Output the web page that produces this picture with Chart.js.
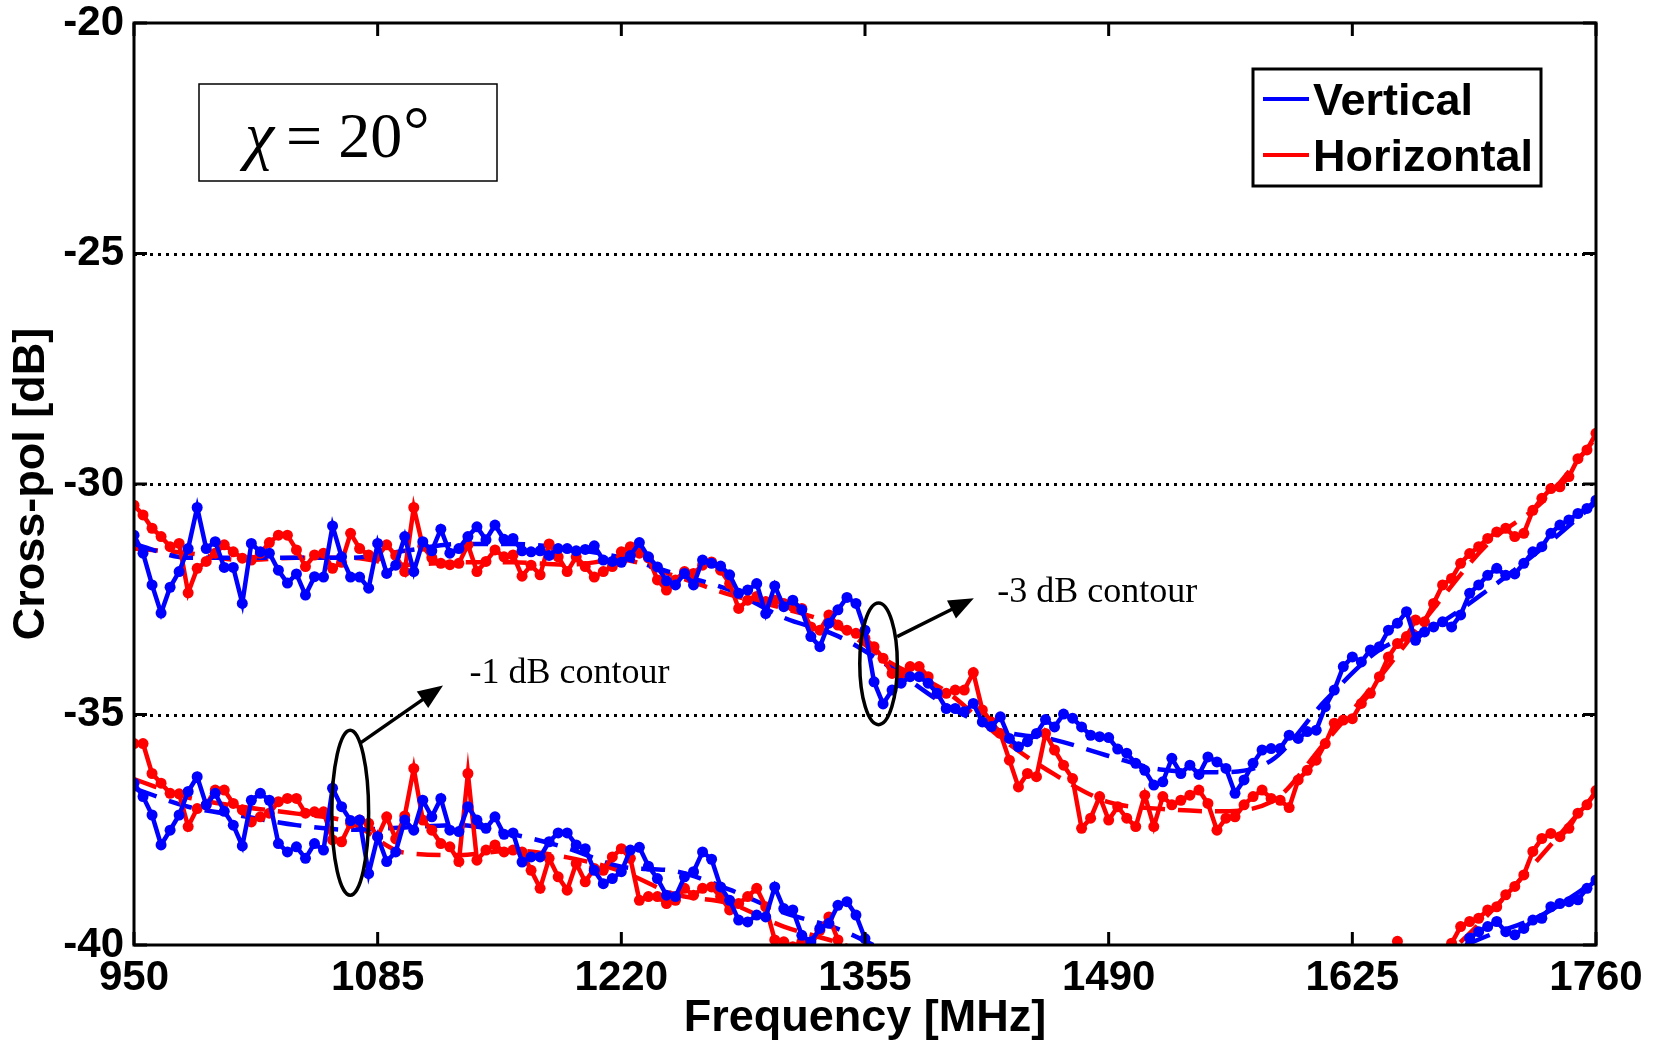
<!DOCTYPE html>
<html>
<head>
<meta charset="utf-8">
<title>Cross-pol vs frequency</title>
<script src="https://cdn.jsdelivr.net/npm/chart.js@4.4.1/dist/chart.umd.min.js"></script>
<style>
  html, body { margin: 0; padding: 0; background: #fff; }
</style>
</head>
<body>
<canvas id="line-chartcanvas" width="1661" height="1044"></canvas>
<script>
// measured frequency points [MHz]
var freq = [
	950, 955, 960, 965, 970, 975, 980, 985, 990, 995,
	1000, 1005, 1010, 1015, 1020, 1025, 1030, 1035, 1040, 1045,
	1050, 1055, 1060, 1065, 1070, 1075, 1080, 1085, 1090, 1095,
	1100, 1105, 1110, 1115, 1120, 1125, 1130, 1135, 1140, 1145,
	1150, 1155, 1160, 1165, 1170, 1175, 1180, 1185, 1190, 1195,
	1200, 1205, 1210, 1215, 1220, 1225, 1230, 1235, 1240, 1245,
	1250, 1255, 1260, 1265, 1270, 1275, 1280, 1285, 1290, 1295,
	1300, 1305, 1310, 1315, 1320, 1325, 1330, 1335, 1340, 1345,
	1350, 1355, 1360, 1365, 1370, 1375, 1380, 1385, 1390, 1395,
	1400, 1405, 1410, 1415, 1420, 1425, 1430, 1435, 1440, 1445,
	1450, 1455, 1460, 1465, 1470, 1475, 1480, 1485, 1490, 1495,
	1500, 1505, 1510, 1515, 1520, 1525, 1530, 1535, 1540, 1545,
	1550, 1555, 1560, 1565, 1570, 1575, 1580, 1585, 1590, 1595,
	1600, 1605, 1610, 1615, 1620, 1625, 1630, 1635, 1640, 1645,
	1650, 1655, 1660, 1665, 1670, 1675, 1680, 1685, 1690, 1695,
	1700, 1705, 1710, 1715, 1720, 1725, 1730, 1735, 1740, 1745,
	1750, 1755, 1760
];

// -3 dB contour, vertical polarisation [dB]
var vert3dB = [
	-31.11, -31.50, -32.19, -32.80, -32.24, -31.90, -31.40, -30.51, -31.40, -31.25,
	-31.81, -31.81, -32.59, -31.29, -31.47, -31.50, -31.87, -32.15, -31.95, -32.41,
	-32.01, -32.02, -30.91, -31.58, -32.02, -32.02, -32.26, -31.29, -31.94, -31.76,
	-31.14, -31.90, -31.25, -31.45, -30.98, -31.50, -31.40, -31.14, -30.93, -31.21,
	-30.89, -31.20, -31.18, -31.45, -31.47, -31.45, -31.55, -31.40, -31.40, -31.45,
	-31.42, -31.34, -31.65, -31.68, -31.70, -31.55, -31.27, -31.58, -31.80, -32.10,
	-32.19, -31.94, -32.19, -31.65, -31.72, -31.78, -31.97, -32.37, -32.30, -32.16,
	-32.81, -32.21, -32.66, -32.52, -32.73, -33.31, -33.53, -33.02, -32.73, -32.46,
	-32.59, -33.17, -34.29, -34.77, -34.47, -34.32, -34.18, -34.18, -34.32, -34.54,
	-34.87, -34.87, -34.94, -34.76, -35.16, -35.26, -35.05, -35.52, -35.70, -35.59,
	-35.41, -35.11, -35.27, -34.99, -35.08, -35.27, -35.45, -35.48, -35.50, -35.75,
	-35.84, -36.06, -36.21, -36.53, -36.46, -35.95, -36.28, -36.10, -36.30, -35.92,
	-36.03, -36.17, -36.71, -36.42, -36.06, -35.77, -35.74, -35.74, -35.45, -35.52,
	-35.37, -35.34, -34.83, -34.47, -33.96, -33.75, -33.86, -33.60, -33.53, -33.17,
	-33.02, -32.77, -33.39, -33.21, -33.10, -32.99, -33.10, -32.84, -32.37, -32.19,
	-31.98, -31.83, -31.98, -31.95, -31.72, -31.47, -31.36, -31.07, -30.89, -30.78,
	-30.64, -30.53, -30.35
];

// -3 dB contour, horizontal polarisation [dB]
var horiz3dB = [
	-30.46, -30.67, -30.96, -31.14, -31.36, -31.29, -32.36, -31.83, -31.68, -31.50,
	-31.32, -31.47, -31.61, -31.65, -31.50, -31.27, -31.11, -31.11, -31.43, -31.79,
	-31.54, -31.50, -31.83, -31.70, -31.07, -31.40, -31.54, -31.57, -31.32, -31.55,
	-31.90, -30.51, -31.35, -31.60, -31.72, -31.75, -31.72, -31.32, -31.90, -31.68,
	-31.43, -31.58, -31.54, -32.00, -31.76, -31.97, -31.30, -31.58, -31.90, -31.58,
	-31.79, -32.02, -31.90, -31.79, -31.47, -31.36, -31.50, -31.60, -32.08, -32.30,
	-32.08, -31.90, -31.94, -31.76, -31.69, -31.87, -32.16, -32.70, -32.52, -32.44,
	-32.55, -32.52, -32.59, -32.66, -32.70, -33.10, -33.17, -32.84, -33.06, -33.17,
	-33.24, -33.35, -33.53, -33.78, -34.11, -34.14, -33.96, -33.96, -34.18, -34.54,
	-34.54, -34.47, -34.47, -34.09, -34.90, -35.16, -35.41, -35.99, -36.57, -36.28,
	-36.35, -35.41, -35.77, -36.10, -36.39, -37.47, -37.25, -36.78, -37.29, -37.00,
	-37.25, -37.43, -36.75, -37.43, -36.78, -36.96, -36.86, -36.75, -36.64, -36.93,
	-37.51, -37.25, -37.22, -36.96, -36.78, -36.64, -36.82, -36.86, -37.02, -36.42,
	-36.21, -35.99, -35.63, -35.19, -35.12, -35.09, -34.76, -34.54, -34.18, -33.75,
	-33.46, -33.31, -32.95, -32.99, -32.59, -32.19, -32.05, -31.72, -31.51, -31.36,
	-31.18, -31.04, -30.96, -31.14, -31.07, -30.57, -30.31, -30.10, -30.06, -29.84,
	-29.45, -29.26, -28.90
];

// -1 dB contour, vertical polarisation [dB] (null = below -40 dB)
var vert1dB = [
	-36.49, -36.78, -37.18, -37.83, -37.51, -37.18, -36.67, -36.35, -36.96, -36.71,
	-37.10, -37.40, -37.85, -36.86, -36.71, -36.86, -37.80, -37.98, -37.87, -38.12,
	-37.80, -37.94, -36.60, -37.00, -37.30, -37.29, -38.45, -37.65, -38.19, -37.98,
	-37.29, -37.51, -36.86, -37.22, -36.82, -37.51, -37.54, -37.00, -37.29, -37.47,
	-37.22, -37.60, -37.57, -38.20, -38.09, -38.09, -37.76, -37.57, -37.57, -37.83,
	-37.91, -38.38, -38.67, -38.56, -38.41, -37.94, -37.88, -38.29, -38.56, -38.92,
	-38.95, -38.52, -38.41, -37.98, -38.14, -38.74, -39.03, -39.46, -39.50, -39.35,
	-39.39, -38.74, -39.21, -39.24, -39.79, -39.93, -39.64, -39.53, -39.14, -39.06,
	-39.35, -39.86, -40.40, null, null, null, null, null, null, null,
	null, null, null, null, null, null, null, null, null, null,
	null, null, null, null, null, null, null, null, null, null,
	null, null, null, null, null, null, null, null, null, null,
	null, null, null, null, null, null, null, null, null, null,
	null, null, null, null, null, null, null, null, null, null,
	null, null, null, null, null, null, null, -40.30, -39.85, -39.71,
	-39.60, -39.49, -39.71, -39.78, -39.64, -39.46, -39.42, -39.17, -39.10, -39.06,
	-39.02, -38.77, -38.59
];

// -1 dB contour, horizontal polarisation [dB] (null = below -40 dB)
var horiz1dB = [
	-35.63, -35.63, -36.28, -36.49, -36.71, -36.72, -37.43, -37.04, -36.96, -36.64,
	-36.64, -36.93, -37.07, -37.33, -37.22, -37.14, -36.89, -36.82, -36.82, -37.14,
	-37.11, -37.11, -37.72, -37.76, -37.36, -37.29, -37.36, -37.65, -37.22, -37.70,
	-37.20, -36.17, -37.29, -37.51, -37.80, -37.87, -38.19, -36.28, -38.16, -37.94,
	-37.83, -37.98, -37.94, -37.98, -38.38, -38.77, -38.12, -38.52, -38.81, -38.23,
	-38.63, -38.34, -38.38, -38.09, -37.91, -38.12, -39.03, -38.95, -38.95, -39.10,
	-39.03, -38.77, -38.92, -38.77, -38.74, -38.95, -39.24, -39.10, -38.95, -38.77,
	-39.17, -39.89, -39.93, -40.04, -39.93, -40.00, -39.68, -39.39, -39.89, -40.30,
	null, null, null, null, null, null, null, null, null, null,
	null, null, null, null, null, null, null, null, null, null,
	null, null, null, null, null, null, null, null, null, null,
	null, null, null, null, null, null, null, null, null, null,
	null, null, null, null, null, null, null, null, null, null,
	null, null, null, null, null, null, null, null, null, null,
	-39.92, null, null, null, null, -40.40, -39.96, -39.60, -39.49, -39.42,
	-39.24, -39.17, -38.91, -38.73, -38.48, -37.97, -37.69, -37.58, -37.65, -37.47,
	-37.14, -36.96, -36.65
];

// smoothed fits (dashed), sampled every 30 MHz
var fitFreq = [950, 980, 1010, 1040, 1070, 1100, 1130, 1160, 1190, 1220, 1250, 1280, 1310, 1340,
	1370, 1400, 1430, 1460, 1490, 1520, 1550, 1580, 1610, 1640, 1670, 1700, 1730, 1760];
var vert3dBFit = [-31.3, -31.6, -31.6, -31.6, -31.6, -31.45, -31.3, -31.3, -31.4, -31.6, -31.95, -32.3, -32.9, -33.3,
	-34.0, -34.8, -35.35, -35.55, -35.9, -36.2, -36.25, -36.0, -34.7, -33.6, -33.1, -32.3, -31.4, -30.4];
var horiz3dBFit = [-31.4, -31.5, -31.65, -31.6, -31.6, -31.75, -31.7, -31.7, -31.75, -31.65, -32.0, -32.4, -32.7, -33.1,
	-33.9, -34.5, -35.5, -36.3, -36.9, -37.05, -37.1, -36.9, -35.6, -34.2, -32.7, -31.3, -30.4, -29.0];
var vert1dBFit = [-36.6, -37.0, -37.2, -37.4, -37.5, -37.45, -37.4, -37.6, -37.9, -38.3, -38.4, -38.8, -39.3, -39.65,
	-40.2, null, null, null, null, null, null, null, null, null, -40.3, -39.8, -39.35, -38.6];
var horiz1dBFit = [-36.4, -36.8, -37.0, -37.15, -37.35, -38.0, -38.05, -37.95, -38.1, -38.4, -38.9, -39.1, -39.6, -39.95,
	-40.4, null, null, null, null, null, null, null, null, null, -40.5, -39.35, -38.05, -36.7];

var xTicks = [950, 1085, 1220, 1355, 1490, 1625, 1760];
var seriesNames = ["Vertical", "Horizontal"];

var BLUE = "#0000ff";
var RED = "#ff0000";
var SANS = "'Liberation Sans', Arial, sans-serif";
var SERIF = "'Liberation Serif', 'Times New Roman', serif";

function pairs(xs, ys) {
	return xs.map(function(x, i) { return { x: x, y: ys[i] }; });
}

function solid(vals, color) {
	return {
		data : pairs(freq, vals),
		borderColor : color,
		backgroundColor : color,
		borderWidth : 4.5,
		pointRadius : 5.5,
		pointBorderWidth : 0,
		pointBackgroundColor : color,
		fill : false,
		tension : 0,
		clip : 0
	};
}

function dashed(vals, color) {
	return {
		data : pairs(fitFreq, vals),
		borderColor : color,
		borderWidth : 4.5,
		borderDash : [24, 13],
		pointRadius : 0,
		fill : false,
		cubicInterpolationMode : "monotone",
		clip : 0
	};
}

// annotation callouts, in data units
var callouts = {
	ellipses : [
		{ f : 1069.8, v : -37.13, df : 10.2, dv : 1.79 },
		{ f : 1362.5, v : -33.90, df : 10.4, dv : 1.32 }
	],
	arrows : [
		{ f0 : 1075.3, v0 : -35.62, f1 : 1121.2, v1 : -34.37 },
		{ f0 : 1372.8, v0 : -33.31, f1 : 1415.3, v1 : -32.48 }
	],
	labels : [
		{ text : "-1 dB contour", f : 1135.9, v : -34.32 },
		{ text : "-3 dB contour", f : 1428.3, v : -32.57 }
	]
};

var decor = {
	id : "decor",
	beforeDatasetsDraw : function(chart) {
		var ctx = chart.ctx, a = chart.chartArea, y = chart.scales.y;
		// dotted grid on the inner y ticks
		ctx.save();
		ctx.strokeStyle = "#000";
		ctx.lineWidth = 3;
		ctx.setLineDash([3, 5]);
		y.ticks.forEach(function(t) {
			if (t.value <= y.min || t.value >= y.max) return;
			var py = Math.round(y.getPixelForValue(t.value)) + 0.5;
			ctx.beginPath();
			ctx.moveTo(a.left, py);
			ctx.lineTo(a.right, py);
			ctx.stroke();
		});
		ctx.restore();
	},
	afterDraw : function(chart) {
		var ctx = chart.ctx, a = chart.chartArea, x = chart.scales.x, y = chart.scales.y;
		ctx.save();

		// box and inward ticks
		ctx.strokeStyle = "#000";
		ctx.lineWidth = 3;
		ctx.setLineDash([]);
		ctx.strokeRect(a.left, a.top, a.right - a.left, a.bottom - a.top);
		var tl = 13;
		ctx.beginPath();
		x.ticks.forEach(function(t) {
			var px = x.getPixelForValue(t.value);
			ctx.moveTo(px, a.bottom); ctx.lineTo(px, a.bottom - tl);
			ctx.moveTo(px, a.top); ctx.lineTo(px, a.top + tl);
		});
		y.ticks.forEach(function(t) {
			var py = y.getPixelForValue(t.value);
			ctx.moveTo(a.left, py); ctx.lineTo(a.left + tl, py);
			ctx.moveTo(a.right, py); ctx.lineTo(a.right - tl, py);
		});
		ctx.stroke();

		// axis titles
		ctx.fillStyle = "#000";
		ctx.font = "bold 45px " + SANS;
		ctx.textAlign = "center";
		ctx.textBaseline = "middle";
		ctx.fillText("Frequency [MHz]", (a.left + a.right) / 2, a.bottom + 74);
		ctx.save();
		ctx.translate(a.left - 102, (a.top + a.bottom) / 2);
		ctx.rotate(-Math.PI / 2);
		ctx.fillText("Cross-pol [dB]", 0, 0);
		ctx.restore();

		// contour callouts
		ctx.lineWidth = 3.5;
		callouts.ellipses.forEach(function(e) {
			var cx = x.getPixelForValue(e.f), cy = y.getPixelForValue(e.v);
			var rx = x.getPixelForValue(e.f + e.df) - cx;
			var ry = y.getPixelForValue(e.v - e.dv) - cy;
			ctx.beginPath();
			ctx.ellipse(cx, cy, rx, ry, 0, 0, Math.PI * 2);
			ctx.stroke();
		});
		callouts.arrows.forEach(function(r) {
			var x0 = x.getPixelForValue(r.f0), y0 = y.getPixelForValue(r.v0);
			var x1 = x.getPixelForValue(r.f1), y1 = y.getPixelForValue(r.v1);
			var ang = Math.atan2(y1 - y0, x1 - x0);
			var hl = 25, hw = 10;
			ctx.beginPath();
			ctx.moveTo(x0, y0);
			ctx.lineTo(x1 - hl * 0.8 * Math.cos(ang), y1 - hl * 0.8 * Math.sin(ang));
			ctx.stroke();
			ctx.beginPath();
			ctx.moveTo(x1, y1);
			ctx.lineTo(x1 - hl * Math.cos(ang) + hw * Math.sin(ang), y1 - hl * Math.sin(ang) - hw * Math.cos(ang));
			ctx.lineTo(x1 - hl * Math.cos(ang) - hw * Math.sin(ang), y1 - hl * Math.sin(ang) + hw * Math.cos(ang));
			ctx.closePath();
			ctx.fill();
		});
		ctx.font = "36px " + SERIF;
		ctx.textAlign = "left";
		ctx.textBaseline = "alphabetic";
		callouts.labels.forEach(function(l) {
			ctx.fillText(l.text, x.getPixelForValue(l.f), y.getPixelForValue(l.v));
		});

		// angle box
		var bx = a.left + 65, by = a.top + 61, bw = 298, bh = 97;
		ctx.lineWidth = 1.5;
		ctx.strokeRect(bx, by, bw, bh);
		var tx = bx + 46, ty = by + 73;
		ctx.font = "italic 66px " + SERIF;
		ctx.fillText("\u03c7", tx, ty);
		tx += ctx.measureText("\u03c7").width + 12;
		ctx.font = "64px " + SERIF;
		ctx.fillText("=", tx, ty);
		tx += ctx.measureText("=").width + 16;
		ctx.fillText("20", tx, ty);
		tx += ctx.measureText("20").width + 1;
		ctx.font = "66px " + SERIF;
		ctx.fillText("\u00b0", tx, ty - 5);

		// legend
		var lx = a.right - 343, ly = a.top + 46, lw = 288, lh = 117;
		ctx.lineWidth = 3;
		ctx.strokeRect(lx, ly, lw, lh);
		ctx.font = "bold 45px " + SANS;
		[BLUE, RED].forEach(function(c, i) {
			var rowY = ly + 30 + i * 56;
			ctx.strokeStyle = c;
			ctx.lineWidth = 4;
			ctx.beginPath();
			ctx.moveTo(lx + 10, rowY);
			ctx.lineTo(lx + 56, rowY);
			ctx.stroke();
			ctx.fillStyle = "#000";
			ctx.fillText(seriesNames[i], lx + 60, rowY + 16);
		});
		ctx.restore();
	}
};

var ctx = document.getElementById("line-chartcanvas");

var tickFont = { family : SANS, weight : "bold", size : 42 };

var chart = new Chart(ctx, {
	type : "line",
	data : {
		datasets : [
			solid(vert3dB, BLUE),
			solid(vert1dB, BLUE),
			solid(horiz3dB, RED),
			solid(horiz1dB, RED),
			dashed(vert3dBFit, BLUE),
			dashed(vert1dBFit, BLUE),
			dashed(horiz3dBFit, RED),
			dashed(horiz1dBFit, RED)
		]
	},
	options : {
		responsive : false,
		animation : false,
		devicePixelRatio : 1,
		layout : { padding : { top : 23, right : 65, left : 0, bottom : 0 } },
		plugins : {
			legend : { display : false },
			tooltip : { enabled : false }
		},
		scales : {
			x : {
				type : "linear",
				min : 950,
				max : 1760,
				grid : { display : false, drawTicks : false },
				border : { display : false },
				afterBuildTicks : function(s) {
					s.ticks = xTicks.map(function(v) { return { value : v }; });
				},
				afterFit : function(s) {
					s.height = 99;
					s.paddingLeft = 0;
					s.paddingRight = 0;
				},
				ticks : {
					autoSkip : false,
					maxRotation : 0,
					padding : 8,
					color : "#000",
					font : tickFont,
					callback : function(v) { return String(v); }
				}
			},
			y : {
				min : -40,
				max : -20,
				grid : { display : false, drawTicks : false },
				border : { display : false },
				afterFit : function(s) {
					s.width = 134;
					s.paddingTop = 0;
					s.paddingBottom = 0;
				},
				ticks : {
					stepSize : 5,
					padding : 10,
					color : "#000",
					font : tickFont,
					callback : function(v) { return String(v); }
				}
			}
		}
	},
	plugins : [decor]
});
</script>
</body>
</html>
